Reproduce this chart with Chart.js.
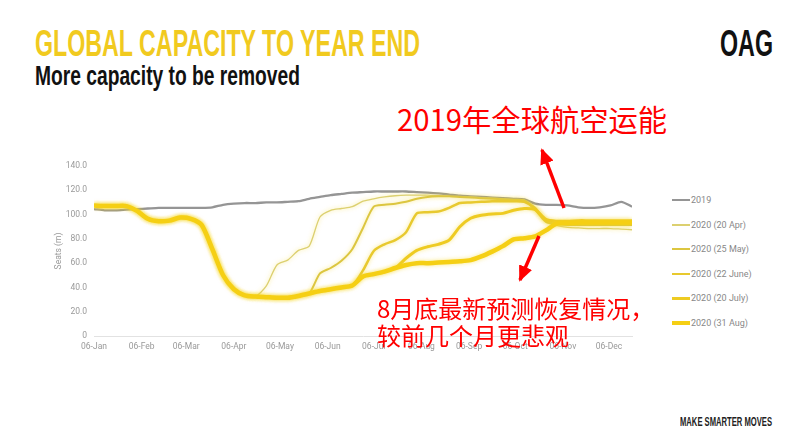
<!DOCTYPE html>
<html>
<head>
<meta charset="utf-8">
<script src="https://cdn.jsdelivr.net/npm/chart.js@4.4.0/dist/chart.umd.min.js"></script>
<style>
  html, body { margin: 0; padding: 0; background: #fff; }
  #page { position: relative; width: 800px; height: 445px; overflow: hidden; background: #fff; }
  .fit { position: absolute; white-space: nowrap; transform-origin: 0 0; font-family: "Liberation Sans Narrow", "Liberation Sans", sans-serif; font-weight: bold; }
  #title { left: 35px; top: 25px; font-size: 37.7px; line-height: 37.7px; color: #f1ca1f; }
  #subtitle { left: 35px; top: 63px; font-size: 27px; line-height: 27px; color: #111; }
  #logo { left: 720px; top: 25px; font-size: 37.7px; line-height: 37.7px; color: #111; }
  #footer { left: 680px; top: 416px; font-size: 12.5px; line-height: 12.5px; color: #222; }
  #chartBox { position: absolute; left: 30px; top: 150px; width: 610px; height: 210px; }
  #legend { position: absolute; left: 672px; top: 188px; font-family: Roboto, sans-serif; font-size: 9px; color: #888; }
  .row { height: 24.5px; display: flex; align-items: center; }
  .swatch { width: 18px; margin-right: 1px; }
  .note { position: absolute; white-space: nowrap; color: #ff0000; font-family: "Noto Sans CJK SC", sans-serif; }
  #note1 { left: 397px; top: 104px; font-size: 29.3px; line-height: 29.3px; }
  #note2 { left: 377px; top: 294px; font-size: 24px; line-height: 27px; }
  #arrows { position: absolute; left: 0; top: 0; }
</style>
</head>
<body>
<div id="page">
  <div id="title" class="fit">GLOBAL CAPACITY TO YEAR END</div>
  <div id="subtitle" class="fit">More capacity to be removed</div>
  <div id="logo" class="fit">OAG</div>
  <div id="footer" class="fit">MAKE SMARTER MOVES</div>
  <div id="chartBox"><canvas id="capacityChart"></canvas></div>
  <div id="legend"></div>
  <div id="note1" class="note">2019年全球航空运能</div>
  <div id="note2" class="note">8月底最新预测恢复情况，<br>较前几个月更悲观</div>
  <svg id="arrows" width="800" height="445">
    <defs>
      <marker id="head" markerUnits="userSpaceOnUse" markerWidth="16" markerHeight="14" refX="14" refY="7" orient="auto">
        <path d="M0,0 L16,7 L0,14 z" fill="#ff0000"></path>
      </marker>
    </defs>
    <line x1="564" y1="208" x2="542" y2="150" stroke="#ff0000" stroke-width="3.5" marker-end="url(#head)"></line>
    <line x1="539" y1="236" x2="520" y2="280" stroke="#ff0000" stroke-width="3.5" marker-end="url(#head)"></line>
  </svg>
</div>

<script>
// week start, days after 06-Jan
const weekDays = [0, 7, 14, 21, 28, 35, 42, 49, 56, 63,
  70, 77, 84, 91, 98, 105, 112, 119, 126, 133,
  140, 147, 154, 161, 168, 175, 182, 189, 196, 203,
  210, 217, 224, 231, 238, 245, 252, 259, 266, 273,
  280, 287, 294, 301, 308, 315, 322, 329, 336, 343,
  350];

// x tick positions (days after 06-Jan) and labels
const tickDays = [0, 31, 60, 91, 121, 152, 182, 213, 244, 274, 305, 335];
const tickLabels = ['06-Jan', '06-Feb', '06-Mar', '06-Apr', '06-May', '06-Jun',
  '06-Jul', '06-Aug', '06-Sep', '06-Oct', '06-Nov', '06-Dec'];
const yTicks = [0, 20, 40, 60, 80, 100, 120, 140];

const seriesNames = ['2019', '2020 (20 Apr)', '2020 (25 May)', '2020 (22 June)', '2020 (20 July)', '2020 (31 Aug)'];

// Seats (m)
const seats2019 = [104.5, 103.5, 103.5, 104, 104.5, 105, 105.5, 105.5, 105.5, 105.5,
  105.5, 106, 108, 109, 109.5, 109.5, 110, 110, 110.5, 111,
  113, 114.5, 116, 117, 118, 118.5, 119, 119, 119, 119,
  118.5, 118, 117.5, 116.5, 115.5, 115, 114.5, 114, 113.5, 113,
  112.5, 109, 108, 108, 107.5, 106, 105.5, 106, 107.5, 110.5,
  106.5];
const seatsApr20 = [107.5, 107, 107, 107, 103, 96.5, 94.5, 95, 97.5, 96.5,
  91.5, 71.5, 50, 38.5, 33.5, 32.5, 41, 58.5, 62.5, 70.5,
  74, 98, 103.5, 105, 106.5, 111, 113, 114.5, 115.5, 116,
  116, 116, 115.5, 115, 115, 114.5, 114, 113.5, 113, 112.5,
  112, 106, 95, 91, 89.5, 89, 88.5, 88.5, 88.5, 88,
  87.5];
const seatsMay25 = [107.5, 107, 107, 107, 103, 96.5, 94.5, 95, 97.5, 96.5,
  91.5, 71.5, 50, 38.5, 33.5, 32.5, 32, 31.5, 31.5, 33,
  35, 51.5, 56, 62, 71.5, 89, 106.5, 108, 109, 110.5,
  113, 114.5, 115, 115, 114.5, 114, 113.5, 113, 112.5, 112,
  111.5, 104, 94, 92, 91.5, 91.5, 91.5, 91.5, 91.5, 91.5,
  91.5];
const seatsJun22 = [107.5, 107, 107, 107, 103, 96.5, 94.5, 95, 97.5, 96.5,
  91.5, 71.5, 50, 38.5, 33.5, 32.5, 32, 31.5, 31.5, 33,
  35, 37, 38.5, 40, 41.5, 54, 70, 75.5, 79, 85.5,
  101, 102, 102.5, 105.5, 109.5, 110, 110.5, 111, 111, 111,
  110.5, 105, 95, 93, 93, 93, 93, 93.5, 93.5, 93.5,
  93.5];
const seatsJul20 = [107.5, 107, 107, 107, 103, 96.5, 94.5, 95, 97.5, 96.5,
  91.5, 71.5, 50, 38.5, 33.5, 32.5, 32, 31.5, 31.5, 33,
  35, 37, 38.5, 40, 41.5, 49, 51, 53, 56, 64,
  70.5, 73.5, 75.5, 79, 90, 97, 99.5, 100.5, 101, 103.5,
  105, 104, 96, 94.5, 94.5, 95, 95, 95, 95, 95,
  95];
const seatsAug31 = [107.5, 107, 107, 107, 103, 96.5, 94.5, 95, 97.5, 96.5,
  91.5, 71.5, 50, 38.5, 33.5, 32.5, 32, 31.5, 31.5, 33,
  35, 37, 38.5, 40, 41.5, 49, 51, 53, 56, 58.5,
  60, 60, 60.5, 61, 61.5, 62.5, 65.5, 69.5, 74, 79.5,
  80.5, 82, 87, 92.5, 93, 93.5, 93.5, 93.5, 93.5, 93.5,
  93.5];

const seriesValues = [seats2019, seatsApr20, seatsMay25, seatsJun22, seatsJul20, seatsAug31];
const seriesColors = ['#959595', '#dcd070', '#dcc640', '#e8c92e', '#eecb22', '#f5cf14'];
const seriesWidths = [2.3, 1.3, 2, 2.5, 3, 4.5];

// soft glow round the yellow lines, like the blurry source image
const glowPlugin = {
  id: 'glow',
  beforeDatasetDraw(chart, args) {
    const ctx = chart.ctx;
    ctx.save();
    if (args.index > 0) {
      ctx.shadowColor = 'rgba(245, 215, 40, 0.55)';
      ctx.shadowBlur = 4;
    }
  },
  afterDatasetDraw(chart) {
    chart.ctx.restore();
  }
};

function fitText(id, targetWidth) {
  const el = document.getElementById(id);
  const w = el.getBoundingClientRect().width;
  el.style.transform = 'scaleX(' + (targetWidth / w) + ')';
}

function buildLegend() {
  const legend = document.getElementById('legend');
  seriesNames.forEach((name, i) => {
    const row = document.createElement('div');
    row.className = 'row';
    const sw = document.createElement('div');
    sw.className = 'swatch';
    sw.style.height = Math.max(1.5, seriesWidths[i]) + 'px';
    sw.style.background = seriesColors[i];
    const label = document.createElement('span');
    label.textContent = name;
    row.appendChild(sw);
    row.appendChild(label);
    legend.appendChild(row);
  });
}

function initializeChart() {
  fitText('title', 385);
  fitText('subtitle', 265);
  fitText('logo', 53);
  fitText('footer', 92);
  buildLegend();

  const datasets = seriesNames.map((name, i) => ({
    label: name,
    data: seriesValues[i].map((v, k) => ({ x: weekDays[k], y: v })),
    borderColor: seriesColors[i],
    borderWidth: seriesWidths[i],
    pointRadius: 0,
    tension: 0.25,
    fill: false,
    order: seriesNames.length - i
  }));

  new Chart(document.getElementById('capacityChart'), {
    type: 'line',
    data: { datasets: datasets },
    plugins: [glowPlugin],
    options: {
      responsive: true,
      maintainAspectRatio: false,
      animation: false,
      layout: { padding: { top: 16, right: 8, left: 0, bottom: 0 } },
      plugins: { legend: { display: false }, tooltip: { enabled: false } },
      scales: {
        x: {
          type: 'linear',
          min: 0,
          max: 350,
          afterBuildTicks: (scale) => { scale.ticks = tickDays.map(v => ({ value: v })); },
          afterFit: (scale) => { scale.height = 24; },
          grid: { display: false, drawTicks: false },
          border: { display: true, color: '#e2e2e2', width: 1 },
          ticks: {
            padding: 6,
            maxRotation: 0,
            autoSkip: false,
            color: '#999',
            font: { family: 'Roboto', size: 8.5 },
            callback: (value, index) => tickLabels[index]
          }
        },
        y: {
          min: 0,
          max: 140,
          afterBuildTicks: (scale) => { scale.ticks = yTicks.map(v => ({ value: v })); },
          afterFit: (scale) => { scale.width = 64; },
          grid: { display: false, drawTicks: false },
          border: { display: false },
          title: {
            display: true,
            text: 'Seats (m)',
            color: '#999',
            font: { family: 'Roboto', size: 8.5 },
            padding: { top: 24, bottom: 0 }
          },
          ticks: {
            padding: 7,
            color: '#999',
            font: { family: 'Roboto', size: 8.5 },
            callback: (value) => value === 0 ? '0' : value.toFixed(1)
          }
        }
      }
    }
  });
}

document.addEventListener('DOMContentLoaded', initializeChart);
</script>
</body>
</html>
